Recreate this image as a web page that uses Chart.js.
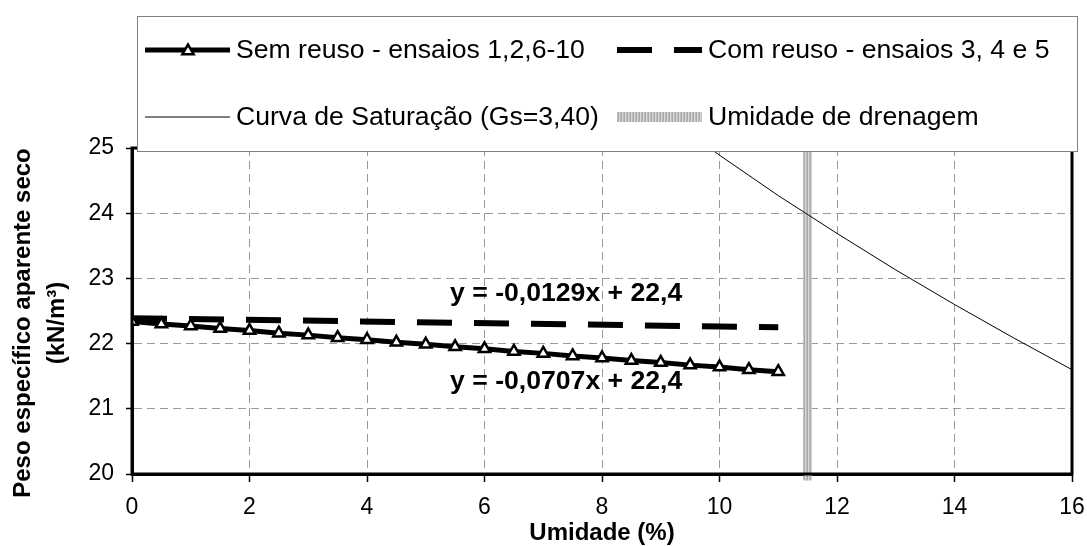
<!DOCTYPE html>
<html>
<head>
<meta charset="utf-8">
<script src="https://cdn.jsdelivr.net/npm/chart.js@4.4.1/dist/chart.umd.min.js"></script>
<style>
  html, body { margin: 0; padding: 0; background: #fff; }
  #wrap { width: 1087px; height: 546px; }
</style>
</head>
<body>
<div id="wrap"><canvas id="compactacao" width="1087" height="546"></canvas></div>
<script>
// Sem reuso (ensaios 1, 2, 6-10)
const umidadeSem = [0, 0.5, 1, 1.5, 2, 2.5, 3, 3.5, 4, 4.5, 5, 5.5, 6, 6.5, 7, 7.5, 8, 8.5, 9, 9.5, 10, 10.5, 11];
const pesoSem = [22.34, 22.30, 22.27, 22.23, 22.20, 22.16, 22.13, 22.09, 22.06, 22.02, 21.99, 21.95,
                 21.92, 21.88, 21.85, 21.81, 21.78, 21.74, 21.71, 21.67, 21.64, 21.60, 21.57];

// Com reuso (ensaios 3, 4 e 5)
const umidadeCom = [0, 11];
const pesoCom = [22.39, 22.25];

// Curva de saturação, Gs = 3,40
const umidadeSat = [9.8, 10, 11, 12, 13, 14, 15, 16, 16.1];
const pesoSat = [25.02, 24.89, 24.27, 23.69, 23.13, 22.60, 22.09, 21.60, 21.55];

// Umidade de drenagem
const umidadeDren = [11.5, 11.5];
const pesoDren = [19.9, 25];

const nomesSeries = [
  "Sem reuso - ensaios 1,2,6-10",
  "Com reuso - ensaios 3, 4 e 5",
  "Curva de Saturação (Gs=3,40)",
  "Umidade de drenagem"
];
const equacoes = ["y = -0,0129x + 22,4", "y = -0,0707x + 22,4"];
const posEquacoes = [[7.39, 22.76], [7.39, 21.41]];

const FONTE = "'Liberation Sans', Arial, sans-serif";

function pontos(xs, ys) {
  return xs.map((x, i) => ({ x: x, y: ys[i] }));
}

// hatched grey used for the drainage line
function hachura() {
  const c = document.createElement('canvas');
  c.width = 3; c.height = 1;
  const g = c.getContext('2d');
  g.fillStyle = '#a8a8a8'; g.fillRect(0, 0, 1, 1);
  g.fillStyle = '#dadada'; g.fillRect(1, 0, 1, 1);
  g.fillStyle = '#bcbcbc'; g.fillRect(2, 0, 1, 1);
  return g.createPattern(c, 'repeat');
}
const cinzaHachura = hachura();

const extras = {
  id: 'extras',
  afterDraw(chart) {
    const ctx = chart.ctx;
    const a = chart.chartArea;
    const xs = chart.scales.x, ys = chart.scales.y;
    ctx.save();

    // plot frame
    ctx.strokeStyle = '#000';
    ctx.lineWidth = 3;
    ctx.strokeRect(a.left, a.top, a.right - a.left, a.bottom - a.top);

    // trendline equations
    ctx.fillStyle = '#000';
    ctx.font = "bold 26.6px " + FONTE;
    ctx.textAlign = 'center';
    ctx.textBaseline = 'middle';
    equacoes.forEach((t, i) => {
      ctx.fillText(t, xs.getPixelForValue(posEquacoes[i][0]), ys.getPixelForValue(posEquacoes[i][1]));
    });

    // y axis title, two lines
    ctx.font = "bold 24px " + FONTE;
    ctx.translate(23, 323);
    ctx.rotate(-Math.PI / 2);
    ctx.fillText("Peso específico aparente seco", 0, 0);
    ctx.fillText("(kN/m³)", 0, 34);
    ctx.setTransform(1, 0, 0, 1, 0, 0);

    // legend box over the top of the plot
    ctx.fillStyle = '#fff';
    ctx.fillRect(137, 16, 941, 136);
    ctx.strokeStyle = '#7f7f7f';
    ctx.lineWidth = 1;
    ctx.strokeRect(137.5, 16.5, 940, 135);

    const ds = chart.data.datasets;
    const itens = [
      { d: ds[0], x: 145, y: 50 },
      { d: ds[1], x: 617, y: 50 },
      { d: ds[2], x: 145, y: 117 },
      { d: ds[3], x: 617, y: 117 }
    ];
    itens.forEach(it => {
      const d = it.d;
      ctx.save();
      ctx.strokeStyle = d.borderColor;
      ctx.lineWidth = d.legendWidth || d.borderWidth;
      ctx.setLineDash(d.borderDash || []);
      ctx.beginPath();
      ctx.moveTo(it.x, it.y);
      ctx.lineTo(it.x + 85, it.y);
      ctx.stroke();
      ctx.restore();
      if (d.pointRadius > 0) {
        ctx.save();
        ctx.fillStyle = d.pointBackgroundColor;
        ctx.strokeStyle = d.pointBorderColor;
        ctx.lineWidth = d.pointBorderWidth;
        Chart.helpers.drawPoint(ctx, { pointStyle: d.pointStyle, radius: d.pointRadius, rotation: 0, borderWidth: d.pointBorderWidth }, it.x + 43, it.y + 1);
        ctx.restore();
      }
      ctx.fillStyle = '#000';
      ctx.font = "26.6px " + FONTE;
      ctx.textAlign = 'left';
      ctx.textBaseline = 'middle';
      ctx.fillText(d.label, it.x + 91, it.y + 1);
    });

    ctx.restore();
  }
};

new Chart(document.getElementById('compactacao'), {
  type: 'scatter',
  data: {
    datasets: [
      {
        label: nomesSeries[0],
        data: pontos(umidadeSem, pesoSem),
        showLine: true,
        borderColor: '#000',
        borderWidth: 5,
        pointStyle: 'triangle',
        pointRadius: 6.5,
        pointBackgroundColor: '#fff',
        pointBorderColor: '#000',
        pointBorderWidth: 2.5,
        order: 1
      },
      {
        label: nomesSeries[1],
        data: pontos(umidadeCom, pesoCom),
        showLine: true,
        borderColor: '#000',
        borderWidth: 6,
        borderDash: [35, 22],
        pointRadius: 0,
        order: 2
      },
      {
        label: nomesSeries[2],
        data: pontos(umidadeSat, pesoSat),
        showLine: true,
        borderColor: '#000',
        borderWidth: 1,
        pointRadius: 0,
        clip: { left: 0, top: 0, right: 10, bottom: 0 },
        order: 3
      },
      {
        label: nomesSeries[3],
        data: pontos(umidadeDren, pesoDren),
        showLine: true,
        borderColor: cinzaHachura,
        borderWidth: 9,
        legendWidth: 10,
        pointRadius: 0,
        clip: { left: 0, top: 0, right: 0, bottom: 8 },
        order: 4
      }
    ]
  },
  options: {
    responsive: false,
    animation: false,
    layout: { padding: { top: 148, right: 15, left: 0, bottom: 0 } },
    plugins: {
      legend: { display: false },
      tooltip: { enabled: false }
    },
    scales: {
      x: {
        type: 'linear',
        min: 0,
        max: 16,
        afterFit: s => { s.height = 72; s.paddingLeft = 0; s.paddingRight = 0; },
        ticks: {
          stepSize: 2,
          color: '#000',
          padding: 12,
          font: { family: FONTE, size: 23 }
        },
        grid: {
          color: '#999',
          lineWidth: 1,
          tickLength: 8,
          tickColor: '#000',
          tickWidth: 1.5,
          tickBorderDash: []
        },
        border: { color: '#000', width: 3, dash: [8, 5] },
        title: {
          display: true,
          text: 'Umidade (%)',
          color: '#000',
          font: { family: FONTE, size: 24, weight: 'bold', lineHeight: 1 },
          padding: { top: 0, bottom: 1 }
        }
      },
      y: {
        type: 'linear',
        min: 20,
        max: 25,
        afterFit: s => { s.width = 132; s.paddingTop = 0; s.paddingBottom = 0; },
        ticks: {
          stepSize: 1,
          color: '#000',
          padding: 12,
          font: { family: FONTE, size: 23 }
        },
        grid: {
          color: '#999',
          lineWidth: 1,
          tickLength: 6,
          tickColor: '#000',
          tickWidth: 1.5,
          tickBorderDash: []
        },
        border: { color: '#000', width: 3, dash: [8, 5] }
      }
    }
  },
  plugins: [extras]
});
</script>
</body>
</html>
